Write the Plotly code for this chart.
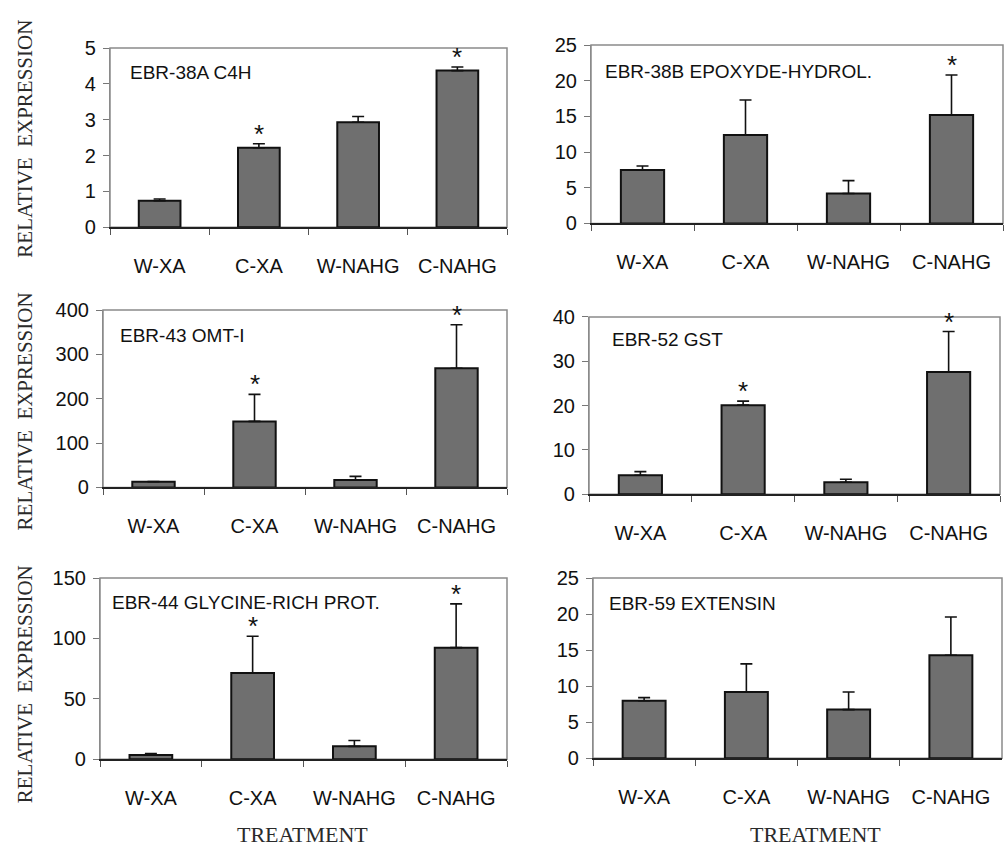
import plotly.graph_objects as go

W, H = 1006, 856

categories = ["W-XA", "C-XA", "W-NAHG", "C-NAHG"]

titles = ["EBR-38A C4H", "EBR-38B EPOXYDE-HYDROL.", "EBR-43 OMT-I",
          "EBR-52 GST", "EBR-44 GLYCINE-RICH PROT.", "EBR-59 EXTENSIN"]

c4h_mean = [0.74, 2.22, 2.93, 4.37]
c4h_err = [0.05, 0.11, 0.16, 0.10]
c4h_sig = [False, True, False, True]

epox_mean = [7.5, 12.4, 4.2, 15.2]
epox_err = [0.55, 4.9, 1.8, 5.6]
epox_sig = [False, False, False, True]

omt_mean = [13, 149, 17, 269]
omt_err = [0.5, 61, 8, 98]
omt_sig = [False, True, False, True]

gst_mean = [4.3, 20.1, 2.7, 27.6]
gst_err = [0.8, 0.9, 0.7, 9.1]
gst_sig = [False, True, False, True]

gly_mean = [3.5, 71.5, 10.7, 92.4]
gly_err = [1.3, 30.3, 4.8, 36.2]
gly_sig = [False, True, False, True]

ext_mean = [7.97, 9.2, 6.75, 14.3]
ext_err = [0.45, 3.9, 2.45, 5.3]
ext_sig = [False, False, False, False]

means = [c4h_mean, epox_mean, omt_mean, gst_mean, gly_mean, ext_mean]
errs = [c4h_err, epox_err, omt_err, gst_err, gly_err, ext_err]
sigs = [c4h_sig, epox_sig, omt_sig, gst_sig, gly_sig, ext_sig]
y_max = [5, 25, 400, 40, 150, 25]
y_step = [1, 5, 100, 10, 50, 5]

# panel boxes in pixels: left, top, right, bottom
boxes = [(110, 38, 507, 222), (591, 35, 1003, 218),
         (103, 307, 507, 489), (589, 314, 1000, 496),
         (100, 582, 507, 768), (593, 582, 1002, 767)]
title_off = [(18, 25), (12, 27), (15, 26), (21, 23), (10, 25), (14, 26)]

SANS = "Liberation Sans, Arial, sans-serif"
SERIF = "Liberation Serif, Times New Roman, serif"
BAR = "#6f6f6f"
FRAME = "#8a8a8a"

fig = go.Figure()
annotations = []
shapes = []
layout = {}

for i in range(6):
    n = i + 1
    xa = "x" if n == 1 else f"x{n}"
    ya = "y" if n == 1 else f"y{n}"
    l, t, r, b = boxes[i]
    fig.add_trace(go.Bar(
        x=categories, y=means[i], xaxis=xa, yaxis=ya, width=0.42,
        marker=dict(color=BAR, line=dict(color="#111111", width=2)),
        error_y=dict(type="data", symmetric=False, array=errs[i],
                     arrayminus=[0] * 4, color="#111111", thickness=1.6, width=6),
        showlegend=False, hoverinfo="skip"))
    xkey = "xaxis" if n == 1 else f"xaxis{n}"
    ykey = "yaxis" if n == 1 else f"yaxis{n}"
    layout[xkey] = dict(
        domain=[l / W, r / W], anchor=ya, type="category",
        categoryorder="array", categoryarray=categories,
        tickson="boundaries", ticks="outside", ticklen=6, tickcolor="#555555",
        showline=True, linecolor="#222222", linewidth=1.5,
        showgrid=False, zeroline=False,
        tickfont=dict(family=SANS, size=20, color="#111111"),
        ticklabelstandoff=20, fixedrange=True)
    layout[ykey] = dict(
        domain=[1 - b / H, 1 - t / H], anchor=xa,
        range=[0, y_max[i]], dtick=y_step[i], tick0=0,
        ticks="outside", ticklen=6, tickcolor="#777777",
        showline=True, linecolor=FRAME, linewidth=1.2,
        showgrid=False, zeroline=False,
        tickfont=dict(family=SANS, size=20, color="#111111"),
        ticklabelstandoff=3, fixedrange=True)
    shapes.append(dict(type="rect", xref=f"{xa} domain", yref=f"{ya} domain",
                       x0=0, x1=1, y0=0, y1=1, line=dict(color=FRAME, width=1.5),
                       layer="below"))
    dx, dy = title_off[i]
    annotations.append(dict(
        text=titles[i], xref="paper", yref="paper",
        x=(l + dx) / W, y=1 - (t + dy) / H, xanchor="left", yanchor="middle",
        showarrow=False, font=dict(family=SANS, size=19, color="#111111")))
    for j, cat in enumerate(categories):
        if sigs[i][j]:
            annotations.append(dict(
                text="*", x=cat, y=means[i][j] + errs[i][j], xref=xa, yref=ya,
                xanchor="center", yanchor="bottom", yshift=-7, showarrow=False,
                font=dict(family=SANS, size=26, color="#111111")))

for yc in [131, 411, 691]:
    annotations.append(dict(
        text="RELATIVE  EXPRESSION", xref="paper", yref="paper",
        x=25 / W, y=1 - yc / H, textangle=-90, showarrow=False,
        xanchor="center", yanchor="middle",
        font=dict(family=SERIF, size=21, color="#2a2a2a")))
for xc in [302, 815]:
    annotations.append(dict(
        text="TREATMENT", xref="paper", yref="paper",
        x=xc / W, y=1 - 845 / H, showarrow=False,
        xanchor="center", yanchor="middle",
        font=dict(family=SERIF, size=22, color="#2a2a2a")))

fig.update_layout(
    width=W, height=H, margin=dict(l=0, r=0, t=0, b=0),
    paper_bgcolor="white", plot_bgcolor="white",
    annotations=annotations, shapes=shapes, bargap=0.58, **layout)

fig.write_html("out.html", config={"displayModeBar": False},
               post_script="document.body.style.margin='0';"
                           "document.body.style.overflow='hidden';")
